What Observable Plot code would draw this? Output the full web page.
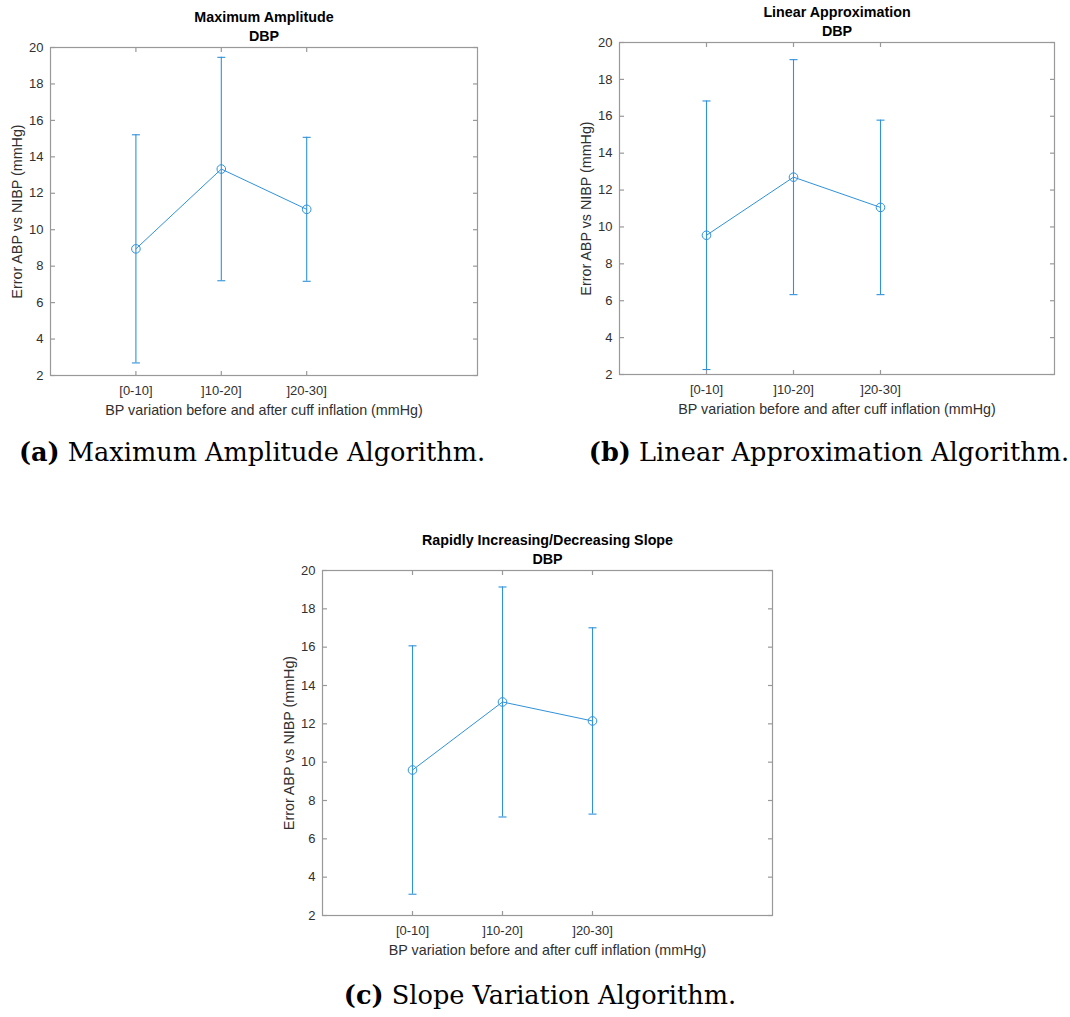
<!DOCTYPE html>
<html>
<head>
<meta charset="utf-8">
<script src="https://cdn.jsdelivr.net/npm/d3@7"></script>
<script src="https://cdn.jsdelivr.net/npm/@observablehq/plot@0.6"></script>
<style>
  body { margin: 0; background: #fff; }
  #page { position: relative; width: 1070px; height: 1017px; background: #fff; }
  .panel { position: absolute; }
  .caption {
    position: absolute;
    font-family: "DejaVu Serif", serif;
    font-size: 25.6px;
    color: #000;
    white-space: nowrap;
    transform: translate(-50%, -50%);
  }
  .caption b { font-weight: bold; }
</style>
</head>
<body>
<div id="page"></div>
<script>
// BP-variation groups on the x axis
const groups = ["[0-10]", "]10-20]", "]20-30]"];
const groupIndex = [1, 2, 3];
const yTicks = [2, 4, 6, 8, 10, 12, 14, 16, 18, 20];

// Mean DBP error (ABP vs NIBP) and its standard deviation, per group
const maxAmplitudeMean = [8.95, 13.33, 11.12];
const maxAmplitudeSd   = [6.26, 6.13, 3.95];
const linearApproxMean = [9.55, 12.70, 11.06];
const linearApproxSd   = [7.28, 6.37, 4.73];
const slopeMean        = [9.59, 13.14, 12.15];
const slopeSd          = [6.48, 6.00, 4.86];

const BLUE = "#3092da";
const AXIS = "#999999";
const INK = "#303030";

// Small path symbols: error-bar caps and inward axis ticks
const lenOf = size => Math.sqrt(size / Math.PI);
const capSymbol = { draw(c, s) { const r = lenOf(s); c.moveTo(-r, 0); c.lineTo(r, 0); } };
const tickRight = { draw(c, s) { c.moveTo(0, 0); c.lineTo(lenOf(s), 0); } };
const tickLeft  = { draw(c, s) { c.moveTo(0, 0); c.lineTo(-lenOf(s), 0); } };
const tickUp    = { draw(c, s) { c.moveTo(0, 0); c.lineTo(0, -lenOf(s)); } };
const tickDown  = { draw(c, s) { c.moveTo(0, 0); c.lineTo(0, lenOf(s)); } };

function errorPlot({title, mean, sd, width, height, margins}) {
  const rows = groupIndex.map((g, i) => ({
    g, mean: mean[i], lo: mean[i] - sd[i], hi: mean[i] + sd[i]
  }));
  const [xMin, xMax] = [0, 5];
  const [yMin, yMax] = [2, 20];
  return Plot.plot({
    width, height,
    marginTop: margins[0], marginRight: margins[1],
    marginBottom: margins[2], marginLeft: margins[3],
    style: { fontFamily: "'Liberation Sans', Arial, sans-serif", fontSize: "13px", color: INK, background: "transparent", overflow: "visible" },
    x: { domain: [xMin, xMax], axis: null },
    y: { domain: [yMin, yMax], axis: null },
    marks: [
      // tick labels
      Plot.axisX({ ticks: groupIndex, tickFormat: g => groups[g - 1], tickSize: 0, tickPadding: 10, label: null, fill: INK }),
      Plot.axisY({ ticks: yTicks, tickSize: 0, tickPadding: 7, label: null, fill: INK }),
      // inward ticks on all four sides
      Plot.dot(groupIndex, { x: d => d, y: yMin, symbol: tickUp, r: 4.5, stroke: AXIS, strokeWidth: 1.2 }),
      Plot.dot(groupIndex, { x: d => d, y: yMax, symbol: tickDown, r: 4.5, stroke: AXIS, strokeWidth: 1.2 }),
      Plot.dot(yTicks, { x: xMin, y: d => d, symbol: tickRight, r: 4.5, stroke: AXIS, strokeWidth: 1.2 }),
      Plot.dot(yTicks, { x: xMax, y: d => d, symbol: tickLeft, r: 4.5, stroke: AXIS, strokeWidth: 1.2 }),
      Plot.frame({ stroke: AXIS, strokeWidth: 1.2 }),
      // error bars
      Plot.ruleX(rows, { x: "g", y1: "lo", y2: "hi", stroke: BLUE, strokeWidth: 1.1 }),
      Plot.dot(rows, { x: "g", y: "lo", symbol: capSymbol, r: 4, stroke: BLUE, strokeWidth: 1.1 }),
      Plot.dot(rows, { x: "g", y: "hi", symbol: capSymbol, r: 4, stroke: BLUE, strokeWidth: 1.1 }),
      // mean line with open circle markers
      Plot.line(rows, { x: "g", y: "mean", stroke: BLUE, strokeWidth: 1 }),
      Plot.dot(rows, { x: "g", y: "mean", r: 4.3, stroke: BLUE, fill: "none", strokeWidth: 1 }),
      // titles
      Plot.text([title], { frameAnchor: "top", lineAnchor: "middle", dy: -30, fontWeight: "bold", fontSize: 14.3, fill: "#000" }),
      Plot.text(["DBP"], { frameAnchor: "top", lineAnchor: "middle", dy: -11, fontWeight: "bold", fontSize: 14.3, fill: "#000" }),
      // axis labels
      Plot.text(["BP variation before and after cuff inflation (mmHg)"], { frameAnchor: "bottom", lineAnchor: "middle", dy: 35, fontSize: 14.3, fill: INK }),
      Plot.text(["Error ABP vs NIBP (mmHg)"], { frameAnchor: "left", textAnchor: "middle", lineAnchor: "middle", dx: -33, rotate: -90, fontSize: 14.3, fill: INK })
    ]
  });
}

const page = document.getElementById("page");

const panels = [
  { left: 0,   top: 0,   title: "Maximum Amplitude", mean: maxAmplitudeMean, sd: maxAmplitudeSd,
    width: 490, height: 420, margins: [47, 13, 45, 50] },
  { left: 560, top: 0,   title: "Linear Approximation", mean: linearApproxMean, sd: linearApproxSd,
    width: 510, height: 420, margins: [42, 16, 46, 59] },
  { left: 270, top: 520, title: "Rapidly Increasing/Decreasing Slope", mean: slopeMean, sd: slopeSd,
    width: 520, height: 440, margins: [50, 18, 45, 52] }
];

for (const p of panels) {
  const div = document.createElement("div");
  div.className = "panel";
  div.style.left = p.left + "px";
  div.style.top = p.top + "px";
  div.appendChild(errorPlot(p));
  page.appendChild(div);
}

const captions = [
  { tag: "(a)", text: "Maximum Amplitude Algorithm.", x: 252, y: 452 },
  { tag: "(b)", text: "Linear Approximation Algorithm.", x: 829, y: 452 },
  { tag: "(c)", text: "Slope Variation Algorithm.", x: 540, y: 995 }
];
for (const c of captions) {
  const div = document.createElement("div");
  div.className = "caption";
  div.style.left = c.x + "px";
  div.style.top = c.y + "px";
  const b = document.createElement("b");
  b.textContent = c.tag;
  div.appendChild(b);
  div.appendChild(document.createTextNode(" " + c.text));
  page.appendChild(div);
}
</script>
</body>
</html>
